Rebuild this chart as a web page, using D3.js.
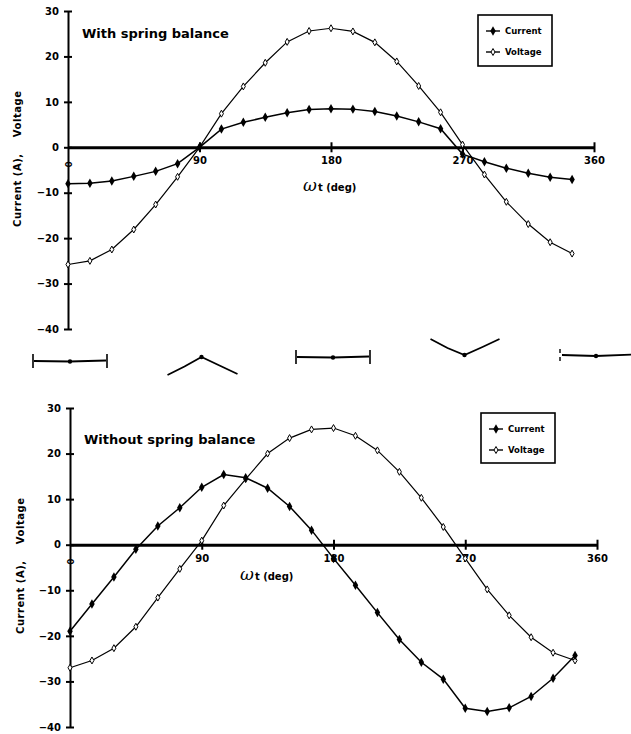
<!DOCTYPE html>
<html>
<head>
<meta charset="utf-8">
<script src="https://cdn.jsdelivr.net/npm/d3@7"></script>
<style>
  body { margin: 0; background: #fff; }
  text { font-family: "DejaVu Sans", sans-serif; font-weight: bold; fill: #000; }
</style>
</head>
<body>
<div class="chart"></div>
<script>
// wrapper function
(function () {

  // frame size
  var width = 631, height = 734;

  // shared x categories (deg)
  var angles = [0, 15, 30, 45, 60, 75, 90, 105, 120, 135, 150, 165,
                180, 195, 210, 225, 240, 255, 270, 285, 300, 315, 330, 345];

  // with spring balance
  var currentWith = [-8, -7.9, -7.4, -6.4, -5.3, -3.6, 0, 4.0, 5.5, 6.6, 7.6, 8.3,
                     8.5, 8.4, 7.9, 6.9, 5.6, 4.1, -1.5, -3.2, -4.6, -5.7, -6.6, -7.1];
  var voltageWith = [-25.8, -25.0, -22.5, -18.1, -12.6, -6.5, 0, 7.4, 13.4, 18.6, 23.2, 25.6,
                     26.2, 25.5, 23.1, 18.9, 13.5, 7.7, 0.6, -6.0, -12.0, -16.9, -20.9, -23.4];

  // without spring balance
  var currentWithout = [-19, -13, -7.1, -1.0, 4.1, 8.1, 12.6, 15.4, 14.7, 12.4, 8.4, 3.2,
                        -3.0, -8.9, -14.9, -20.8, -25.8, -29.5, -35.9, -36.6, -35.8, -33.3, -29.3, -24.3];
  var voltageWithout = [-27.0, -25.4, -22.7, -18.0, -11.6, -5.3, 0.9, 8.6, 14.4, 20.0, 23.4, 25.3,
                        25.6, 23.9, 20.7, 16.0, 10.3, 3.9, -3.0, -9.8, -15.5, -20.3, -23.7, -25.4];

  // tick labels
  var yTicks = [30, 20, 10, 0, -10, -20, -30, -40];
  var xTicks = [90, 180, 270, 360];
  var seriesNames = ["Current", "Voltage"];

  // little waveform sketches between the panels (shape at each quarter)
  var sketchAngles = [0, 90, 180, 270, 360];
  var sketchShapes = ["flat", "peak", "flat", "trough", "flatOpen"];

  var svg = d3.select(".chart")
    .append("svg")
    .attr("width", width)
    .attr("height", height);

  // panel settings
  var panels = [
    { title: "With spring balance", current: currentWith, voltage: voltageWith,
      x0: 68, x1: 594, yTop: 11, yBot: 329, titleX: 82, titleY: 38,
      legend: [478, 15, 74, 51], xlabX: 303, xlabY: 191, ylabX: 21, ylabY: 159 },
    { title: "Without spring balance", current: currentWithout, voltage: voltageWithout,
      x0: 70, x1: 597, yTop: 408, yBot: 727, titleX: 84, titleY: 444,
      legend: [481, 413, 74, 50], xlabX: 240, xlabY: 580, ylabX: 24, ylabY: 566 }
  ];

  panels.forEach(drawPanel);
  drawSketches();

  function drawPanel(p) {
    var x = d3.scaleLinear().domain([0, 360]).range([p.x0, p.x1]);
    var y = d3.scaleLinear().domain([-40, 30]).range([p.yBot, p.yTop]);
    var g = svg.append("g");

    // y axis with crossing ticks
    var yAxis = d3.axisLeft(y).tickValues(yTicks).tickSize(0).tickPadding(9)
      .tickFormat(d3.format("d"));
    var ya = g.append("g").attr("transform", "translate(" + x(0) + ",0)").call(yAxis);
    ya.select(".domain").attr("stroke", "#000").attr("stroke-width", 2);
    ya.selectAll(".tick text").style("font-size", "10px").attr("fill", "#000");
    ya.selectAll(".tick").append("line")
      .attr("x1", -4).attr("x2", 4)
      .attr("stroke", "#000").attr("stroke-width", 2);

    // x axis through zero
    var xAxis = d3.axisBottom(x).tickValues(xTicks).tickSize(0).tickPadding(10);
    var xa = g.append("g").attr("transform", "translate(0," + y(0) + ")").call(xAxis);
    xa.select(".domain").attr("stroke", "#000").attr("stroke-width", 3);
    xa.selectAll(".tick text").style("font-size", "10px").attr("fill", "#000");
    xa.selectAll(".tick").append("line")
      .attr("y1", -5).attr("y2", 5)
      .attr("stroke", "#000").attr("stroke-width", 2);

    // rotated zero at the origin
    g.append("text")
      .attr("transform", "translate(" + (x(0) + 4) + "," + (y(0) + 17) + ") rotate(-90)")
      .attr("text-anchor", "middle")
      .style("font-size", "9px")
      .text("0");

    // lines
    var line = d3.line()
      .x(function (d) { return x(d[0]); })
      .y(function (d) { return y(d[1]); });

    var cur = angles.map(function (a, i) { return [a, p.current[i]]; });
    var vol = angles.map(function (a, i) { return [a, p.voltage[i]]; });

    g.append("path").datum(vol).attr("d", line)
      .attr("fill", "none").attr("stroke", "#000").attr("stroke-width", 1.2);
    g.append("path").datum(cur).attr("d", line)
      .attr("fill", "none").attr("stroke", "#000").attr("stroke-width", 1.5);

    // markers
    var diamond = d3.symbol().type(d3.symbolDiamond);
    g.selectAll(".vmark").data(vol).enter().append("path")
      .attr("class", "vmark")
      .attr("d", diamond.size(14)())
      .attr("transform", function (d) { return "translate(" + x(d[0]) + "," + y(d[1]) + ")"; })
      .attr("fill", "#fff").attr("stroke", "#000").attr("stroke-width", 1);
    g.selectAll(".cmark").data(cur).enter().append("path")
      .attr("class", "cmark")
      .attr("d", d3.symbol().type(d3.symbolDiamond).size(26)())
      .attr("transform", function (d) { return "translate(" + x(d[0]) + "," + y(d[1]) + ")"; })
      .attr("fill", "#000");

    // title
    g.append("text")
      .attr("x", p.titleX).attr("y", p.titleY)
      .style("font-size", "13px")
      .text(p.title);

    // x label
    var xl = g.append("text").attr("x", p.xlabX).attr("y", p.xlabY);
    xl.append("tspan").style("font-size", "17px").style("font-style", "italic")
      .style("font-family", "'DejaVu Serif', serif").style("font-weight", "normal").text("ω");
    xl.append("tspan").style("font-size", "10px").attr("dx", 1).text("t (deg)");

    // y label
    g.append("text")
      .attr("transform", "translate(" + p.ylabX + "," + p.ylabY + ") rotate(-90)")
      .attr("text-anchor", "middle")
      .style("font-size", "10px")
      .style("white-space", "pre")
      .attr("xml:space", "preserve")
      .attr("textLength", 136)
      .attr("lengthAdjust", "spacing")
      .text("Current (A),    Voltage");

    // legend
    var L = p.legend;
    var lg = g.append("g").attr("transform", "translate(" + L[0] + "," + L[1] + ")");
    lg.append("rect")
      .attr("width", L[2]).attr("height", L[3])
      .attr("fill", "#fff").attr("stroke", "#000").attr("stroke-width", 1.6);
    var items = lg.selectAll(".legends").data(seriesNames).enter().append("g")
      .attr("transform", function (d, i) { return "translate(0," + (16 + i * 21) + ")"; });
    items.append("line")
      .attr("x1", 8).attr("x2", 22)
      .attr("stroke", "#000").attr("stroke-width", 1.4);
    items.append("path")
      .attr("transform", "translate(15,0)")
      .attr("d", function (d, i) { return d3.symbol().type(d3.symbolDiamond).size(i ? 14 : 26)(); })
      .attr("fill", function (d, i) { return i ? "#fff" : "#000"; })
      .attr("stroke", "#000").attr("stroke-width", function (d, i) { return i ? 1 : 0; });
    items.append("text")
      .attr("x", 27).attr("y", 3)
      .style("font-size", "8.5px")
      .text(function (d) { return d; });
  }

  function drawSketches() {
    var x = d3.scaleLinear().domain([0, 360]).range([panels[0].x0 + 2, panels[0].x1 + 2]);
    var g = svg.append("g").attr("fill", "none").attr("stroke", "#000").attr("stroke-width", 1.8);
    var shapes = {
      flat: [[-36, 0], [0, 0.5], [36, -0.5]],
      flatOpen: [[-34, 0], [0, 1], [36, -0.5]],
      peak: [[-34, 18], [-17, 9.5], [0, 0], [18, 8.5], [36, 17]],
      trough: [[-34, 0], [-17, 9], [0, 16], [18, 8], [35, 0]]
    };
    var baseY = { flat: 361, flatOpen: 355, peak: 357, trough: 339 };
    var curve = d3.line();

    sketchAngles.forEach(function (a, i) {
      var s = sketchShapes[i];
      var cx = x(a), cy = i === 2 ? 357 : baseY[s];
      var sg = g.append("g").attr("transform", "translate(" + cx + "," + cy + ")");
      sg.append("path").attr("d", curve(shapes[s]));
      // center dot
      var dotY = shapes[s].filter(function (q) { return q[0] === 0; })[0][1];
      sg.append("circle").attr("cx", 0).attr("cy", dotY).attr("r", 2.2).attr("fill", "#000").attr("stroke", "none");
      // brackets
      if (s === "flat") {
        sg.append("path").attr("d", "M-37,-7 L-37,7 M37,-7 L37,7").attr("stroke-width", 1.6);
      } else if (s === "flatOpen") {
        sg.append("path").attr("d", "M-36,-6 L-36,-2 M-36,2 L-36,6").attr("stroke-width", 1.4);
      }
    });
  }

})(); // end of wrapper function
</script>
</body>
</html>
